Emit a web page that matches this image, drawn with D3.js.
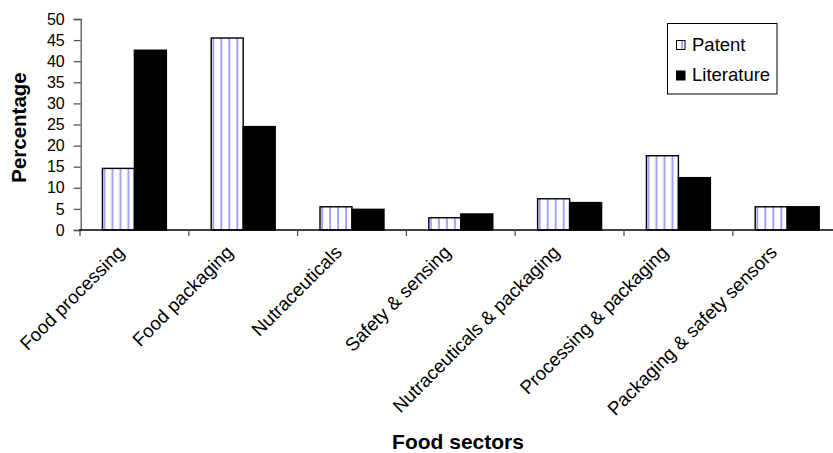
<!DOCTYPE html>
<html>
<head>
<meta charset="utf-8">
<script src="https://cdn.jsdelivr.net/npm/d3@7"></script>
<style>
  body { margin: 0; background: #fff; }
  svg { display: block; font-family: "Liberation Sans", Arial, sans-serif; }
</style>
</head>
<body>
<svg id="chart" width="833" height="453"></svg>
<script>
const categories = ["Food processing", "Food packaging", "Nutraceuticals", "Safety & sensing",
  "Nutraceuticals & packaging", "Processing & packaging", "Packaging & safety sensors"];
const seriesNames = ["Patent", "Literature"];
const patentValues = [14.6, 45.5, 5.5, 2.9, 7.4, 17.6, 5.5];
const literatureValues = [42.6, 24.5, 4.9, 3.8, 6.5, 12.4, 5.5];
const yTicks = [0, 5, 10, 15, 20, 25, 30, 35, 40, 45, 50];
const xTitle = "Food sectors";
const yTitle = "Percentage";

const valuesBySeries = { "Patent": patentValues, "Literature": literatureValues };
const rows = categories.map((c, i) => ({ cat: c, vals: seriesNames.map(s => ({ s, v: valuesBySeries[s][i] })) }));

const svg = d3.select("#chart");
const x0 = 80, x1 = 841.6, yBottom = 230, yTop = 19;

const xCat = d3.scaleBand().domain(categories).range([x0, x1]).padding(0);
const xBar = d3.scaleBand().domain(categories).range([x0, x1]).paddingInner(0.412).paddingOuter(0.206);
const xSub = d3.scaleBand().domain(seriesNames).range([0, xBar.bandwidth()]);
const y = d3.scaleLinear().domain([0, 50]).range([yBottom, yTop]);

// stripe pattern
const defs = svg.append("defs");
const pat = defs.append("pattern").attr("id", "stripes").attr("patternUnits", "userSpaceOnUse")
  .attr("width", 8).attr("height", 8);
pat.append("rect").attr("width", 8).attr("height", 8).attr("fill", "#fff");
pat.append("rect").attr("x", 1.2).attr("y", 0).attr("width", 1.8).attr("height", 8).attr("fill", "#9a9aff");

const fillFor = s => s === "Patent" ? "url(#stripes)" : "#000";

// bars
const g = svg.append("g");
g.selectAll("g.grp").data(rows).join("g").attr("class", "grp")
  .attr("transform", d => `translate(${xBar(d.cat)},0)`)
  .selectAll("rect").data(d => d.vals).join("rect")
  .attr("x", d => xSub(d.s))
  .attr("y", d => y(d.v))
  .attr("width", xSub.bandwidth())
  .attr("height", d => y(0) - y(d.v))
  .attr("fill", d => fillFor(d.s))
  .attr("stroke", "#000").attr("stroke-width", 1.4);

// y axis
const yAxis = svg.append("g").attr("transform", `translate(${x0 + 0.7},0)`)
  .call(d3.axisLeft(y).tickValues(yTicks).tickSize(7).tickPadding(9));
yAxis.select(".domain").attr("stroke", "#555").attr("stroke-width", 1.3);
yAxis.selectAll(".tick line").attr("stroke", "#555").attr("stroke-width", 1.3);
yAxis.selectAll(".tick text").attr("font-size", 16).attr("font-family", "Liberation Sans, Arial, sans-serif").attr("fill", "#000");

// x axis line
svg.append("line").attr("x1", x0 - 1).attr("x2", 833).attr("y1", yBottom).attr("y2", yBottom)
  .attr("stroke", "#000").attr("stroke-width", 1.5);
// category boundary ticks
svg.selectAll("line.xtick").data(categories).join("line").attr("class", "xtick")
  .attr("x1", d => xCat(d)).attr("x2", d => xCat(d))
  .attr("y1", yBottom).attr("y2", yBottom + 6)
  .attr("stroke", "#555").attr("stroke-width", 1.3);

// category labels
svg.selectAll("text.cat").data(categories).join("text").attr("class", "cat")
  .attr("transform", d => `translate(${xCat(d) + xCat.bandwidth() / 2 - 9},${yBottom + 23.5}) rotate(-45)`)
  .attr("text-anchor", "end")
  .attr("font-size", 18.7)
  .text(d => d);

// axis titles
svg.append("text").attr("x", 458).attr("y", 449).attr("text-anchor", "middle")
  .attr("font-weight", "bold").attr("font-size", 21).text(xTitle);
svg.append("text").attr("transform", "translate(26,127.5) rotate(-90)").attr("text-anchor", "middle")
  .attr("font-weight", "bold").attr("font-size", 20.5).text(yTitle);

// legend
const lg = svg.append("g");
lg.append("rect").attr("x", 667.5).attr("y", 23.5).attr("width", 109.5).attr("height", 70.5)
  .attr("fill", "#fff").attr("stroke", "#000").attr("stroke-width", 1);
const items = lg.selectAll("g.item").data(seriesNames).join("g").attr("class", "item")
  .attr("transform", (d, i) => `translate(0,${i * 30.5})`);
items.append("rect").attr("x", 676.5).attr("y", 40.5).attr("width", 8.5).attr("height", 9)
  .attr("fill", d => fillFor(d)).attr("stroke", "#000").attr("stroke-width", 1);
items.append("text").attr("x", 692).attr("y", 50.5).attr("font-size", 18.5).text(d => d);
</script>
</body>
</html>
